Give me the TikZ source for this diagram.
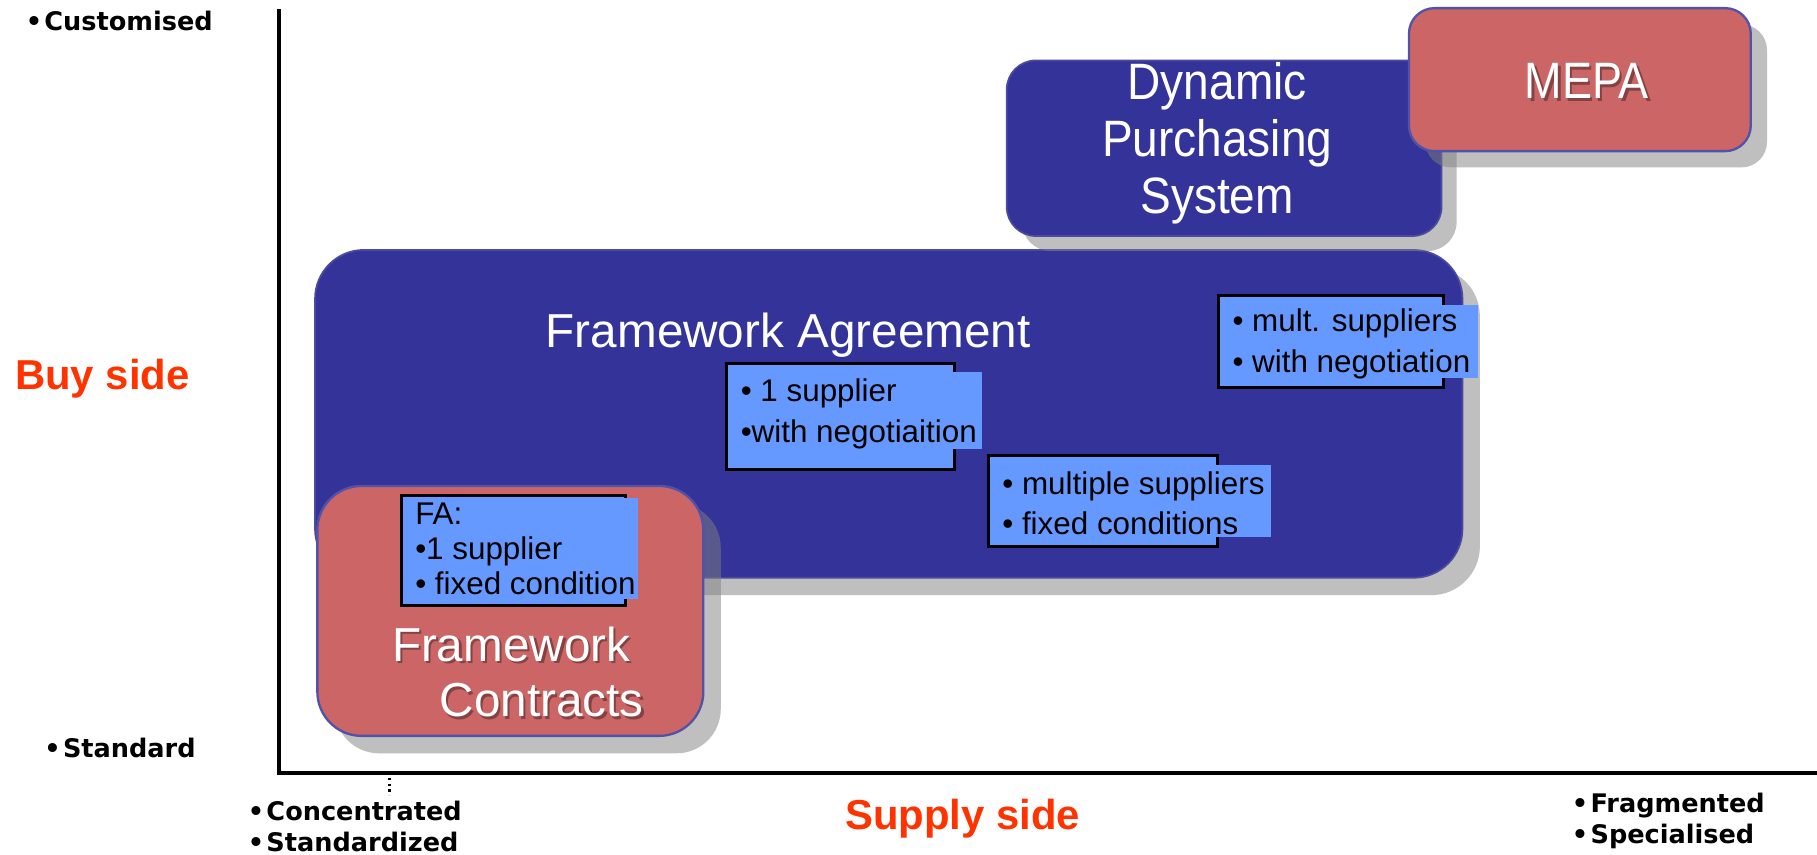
\documentclass[tikz,border=0pt]{standalone}
\usepackage{fontspec}
\setmainfont{Liberation Sans}
\newfontfamily\vfont{DejaVu Sans}
\definecolor{dblue}{HTML}{333399}
\definecolor{bborder}{HTML}{4A4A9E}
\definecolor{rfill}{HTML}{CC6666}
\definecolor{lblue}{HTML}{6699FF}
\definecolor{shade}{HTML}{7F7F7F}
\definecolor{axred}{HTML}{FF3300}
\begin{document}
\begin{tikzpicture}[x=1pt,y=-1pt,
  shadowbox/.style={fill=shade, fill opacity=0.5},
  bluebox/.style={fill=dblue, draw=bborder, line width=1.5pt},
  redbox/.style={fill=rfill, draw=dblue!85!white, line width=2pt},
  infobox/.style={fill=lblue, draw=black, line width=2.5pt},
  infofill/.style={fill=lblue},
  title/.style={text=white, inner sep=0pt, align=center, font=\fontsize{41}{48}\selectfont},
  tshadow/.style={text=black, text opacity=0.35, inner sep=0pt, align=center, font=\fontsize{41}{48}\selectfont},
  info/.style={inner sep=0pt, anchor=west, align=left, font=\fontsize{27}{36}\selectfont},
  axislabel/.style={inner sep=0pt, anchor=west, align=left, font=\vfont\bfseries\fontsize{22}{27}\selectfont},
  sidelabel/.style={text=axred, inner sep=0pt, font=\bfseries\fontsize{36}{40}\selectfont}]
\useasboundingbox (0,0) rectangle (1563,735);

% axes
\coordinate (ytop) at (240,8);
\coordinate (orig) at (240,665);
\coordinate (xend) at (1563,665);
\draw[line width=4pt, line join=miter] (ytop) -- (orig) -- (xend);
\coordinate (tickA) at (335,669);
\coordinate (tickB) at (335,684);
\draw[line width=2pt, dash pattern=on 2pt off 3pt] (tickA) -- (tickB);

% Framework Agreement
\fill[shadowbox, rounded corners=42pt] (286,230) rectangle (1273,512);
\draw[bluebox, rounded corners=42pt] (271,215) rectangle (1258,497);
\node[title] (fat) at (678,288) {Framework Agreement};

% Dynamic Purchasing System
\fill[shadowbox, rounded corners=25pt] (879,65) rectangle (1253,216);
\draw[bluebox, rounded corners=25pt] (866,52) rectangle (1240,203);
\node[title, transform shape, xscale=0.9, font=\fontsize{44}{49}\selectfont] (dps) at (1047,123) {Dynamic\\Purchasing\\System};

% MEPA
\fill[shadowbox, rounded corners=22pt] (1226,21) rectangle (1520,144);
\draw[redbox, rounded corners=22pt] (1212,7) rectangle (1506,130);
\node[tshadow, transform shape, xscale=0.88, font=\fontsize{44}{49}\selectfont] (mepas) at (1367,72) {MEPA};
\node[title, transform shape, xscale=0.88, font=\fontsize{44}{49}\selectfont] (mepa) at (1365,70) {MEPA};

% Framework Contracts
\fill[shadowbox, rounded corners=38pt] (288,433) rectangle (620,648);
\draw[redbox, rounded corners=38pt] (273,418) rectangle (605,633);
\node[tshadow, anchor=west, align=left] (fcs) at (339,580) {Framework\\\hspace*{41pt}Contracts};
\node[title, anchor=west, align=left] (fc) at (337,578) {Framework\\\hspace*{41pt}Contracts};

% info boxes
\draw[infobox] (345,426) rectangle (538,521);
\fill[infofill] (536,428) rectangle (549,515);
\node[info, font=\fontsize{27}{30}\selectfont] (ifa) at (357,472) {FA:\\•1 supplier\\• fixed condition};

\draw[infobox] (625,313) rectangle (821,404);
\fill[infofill] (819,320) rectangle (845,386);
\node[info] (i1) at (637,356) {• 1 supplier\\•with negotiaition};

\draw[infobox] (850,392) rectangle (1047,470);
\fill[infofill] (1045,400) rectangle (1093,462);
\node[info, font=\fontsize{27}{35}\selectfont] (i2) at (862,433) {• multiple suppliers\\• fixed conditions};

\draw[infobox] (1048,254) rectangle (1242,333);
\fill[infofill] (1240,262) rectangle (1271,325);
\node[info, font=\fontsize{27}{35}\selectfont] (i3) at (1060,296) {• mult. suppliers\\• with negotiation};

% axis labels
\node[axislabel] (cust) at (22,18) {•\hspace{2pt}Customised};
\node[axislabel] (stand) at (38,643) {•\hspace{2pt}Standard};
\node[axislabel] (conc) at (213,711) {•\hspace{2pt}Concentrated\\•\hspace{2pt}Standardized};
\node[axislabel] (frag) at (1352,706) {•\hspace{2pt}Fragmented\\•\hspace{2pt}Specialised};
\node[sidelabel] (buy) at (88,326) {Buy side};
\node[sidelabel] (supply) at (828,704) {Supply side};
\end{tikzpicture}
\end{document}
